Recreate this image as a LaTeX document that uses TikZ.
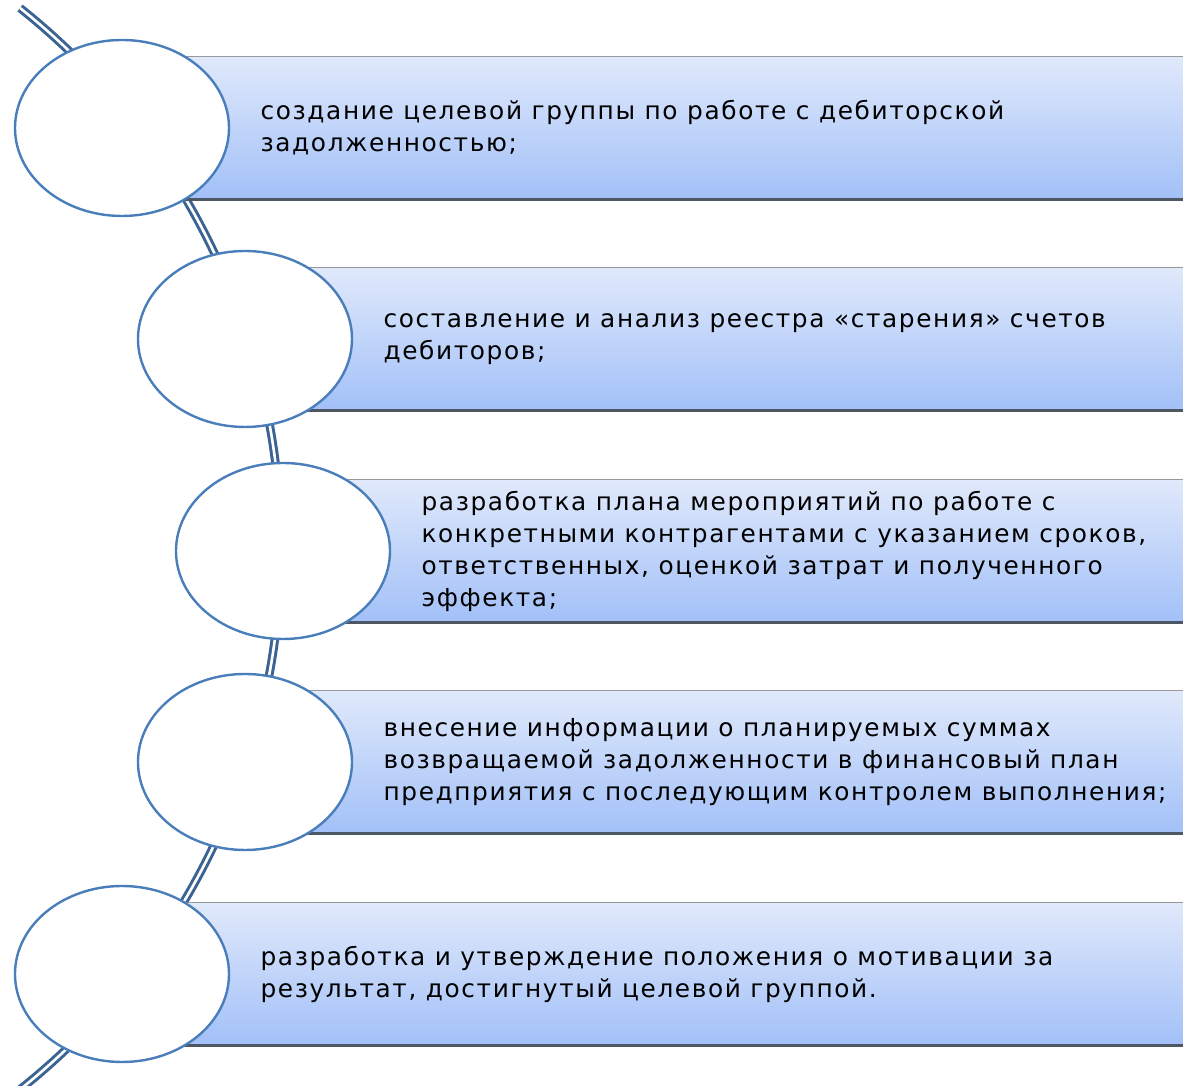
\documentclass[tikz,border=0pt]{standalone}
\usepackage{fontspec}
\setmainfont{DejaVu Sans}[LetterSpace=6.5]
\usetikzlibrary{shapes.geometric,positioning}
\definecolor{ringblue}{HTML}{4A7EBB}
\definecolor{spineblue}{HTML}{3B6393}
\definecolor{bandtop}{HTML}{E0E9FB}
\definecolor{bandbot}{HTML}{A2C0F8}
\definecolor{bandline}{HTML}{4D5663}
\tikzset{
  ring/.style={ellipse, draw=ringblue, line width=1.2pt, fill=white, minimum width=107pt, minimum height=88pt},
  band/.style={rectangle, draw=gray!80, line width=0.5pt, top color=bandtop, bottom color=bandbot, minimum height=71pt, anchor=west},
  label/.style={right=15pt of #1, inner sep=0pt, align=left, font=\fontsize{12.4}{16}\selectfont},
  spine/.style={draw=spineblue, line width=1.5pt, double=white, double distance=1.3pt}
}
\begin{document}
\begin{tikzpicture}[x=0.5pt, y=0.5pt]
\useasboundingbox (0,0) rectangle (1183,1086);
\coordinate (top) at (20,1078);
  \draw[spine] (top) arc[start angle=51.5, end angle=-51.5, radius=691];

  \node[band, minimum width=530.5pt] (r1) at (122,958) {};
  \node[band, minimum width=469pt] (r2) at (245,747) {};
  \node[band, minimum width=450pt] (r3) at (283,535) {};
  \node[band, minimum width=469pt] (r4) at (245,324) {};
  \node[band, minimum width=530.5pt] (r5) at (122,112) {};
  \foreach \r in {r1,r2,r3,r4,r5}
    \draw[bandline, line width=1.5pt] (\r.south west) -- (\r.south east);

  \node[ring] (c1) at (122,958) {};
  \node[ring] (c2) at (245,747) {};
  \node[ring] (c3) at (283,535) {};
  \node[ring] (c4) at (245,324) {};
  \node[ring] (c5) at (122,112) {};

  \node[label=c1] (t1) {создание целевой группы по работе с дебиторской\\задолженностью;};
  \node[label=c2] (t2) {составление и анализ реестра «старения» счетов\\дебиторов;};
  \node[label=c3] (t3) {разработка плана мероприятий по работе с\\конкретными контрагентами с указанием сроков,\\ответственных, оценкой затрат и полученного\\эффекта;};
  \node[label=c4] (t4) {внесение информации о планируемых суммах\\возвращаемой задолженности в финансовый план\\предприятия с последующим контролем выполнения;};
  \node[label=c5] (t5) {разработка и утверждение положения о мотивации за\\результат, достигнутый целевой группой.};
\end{tikzpicture}
\end{document}
